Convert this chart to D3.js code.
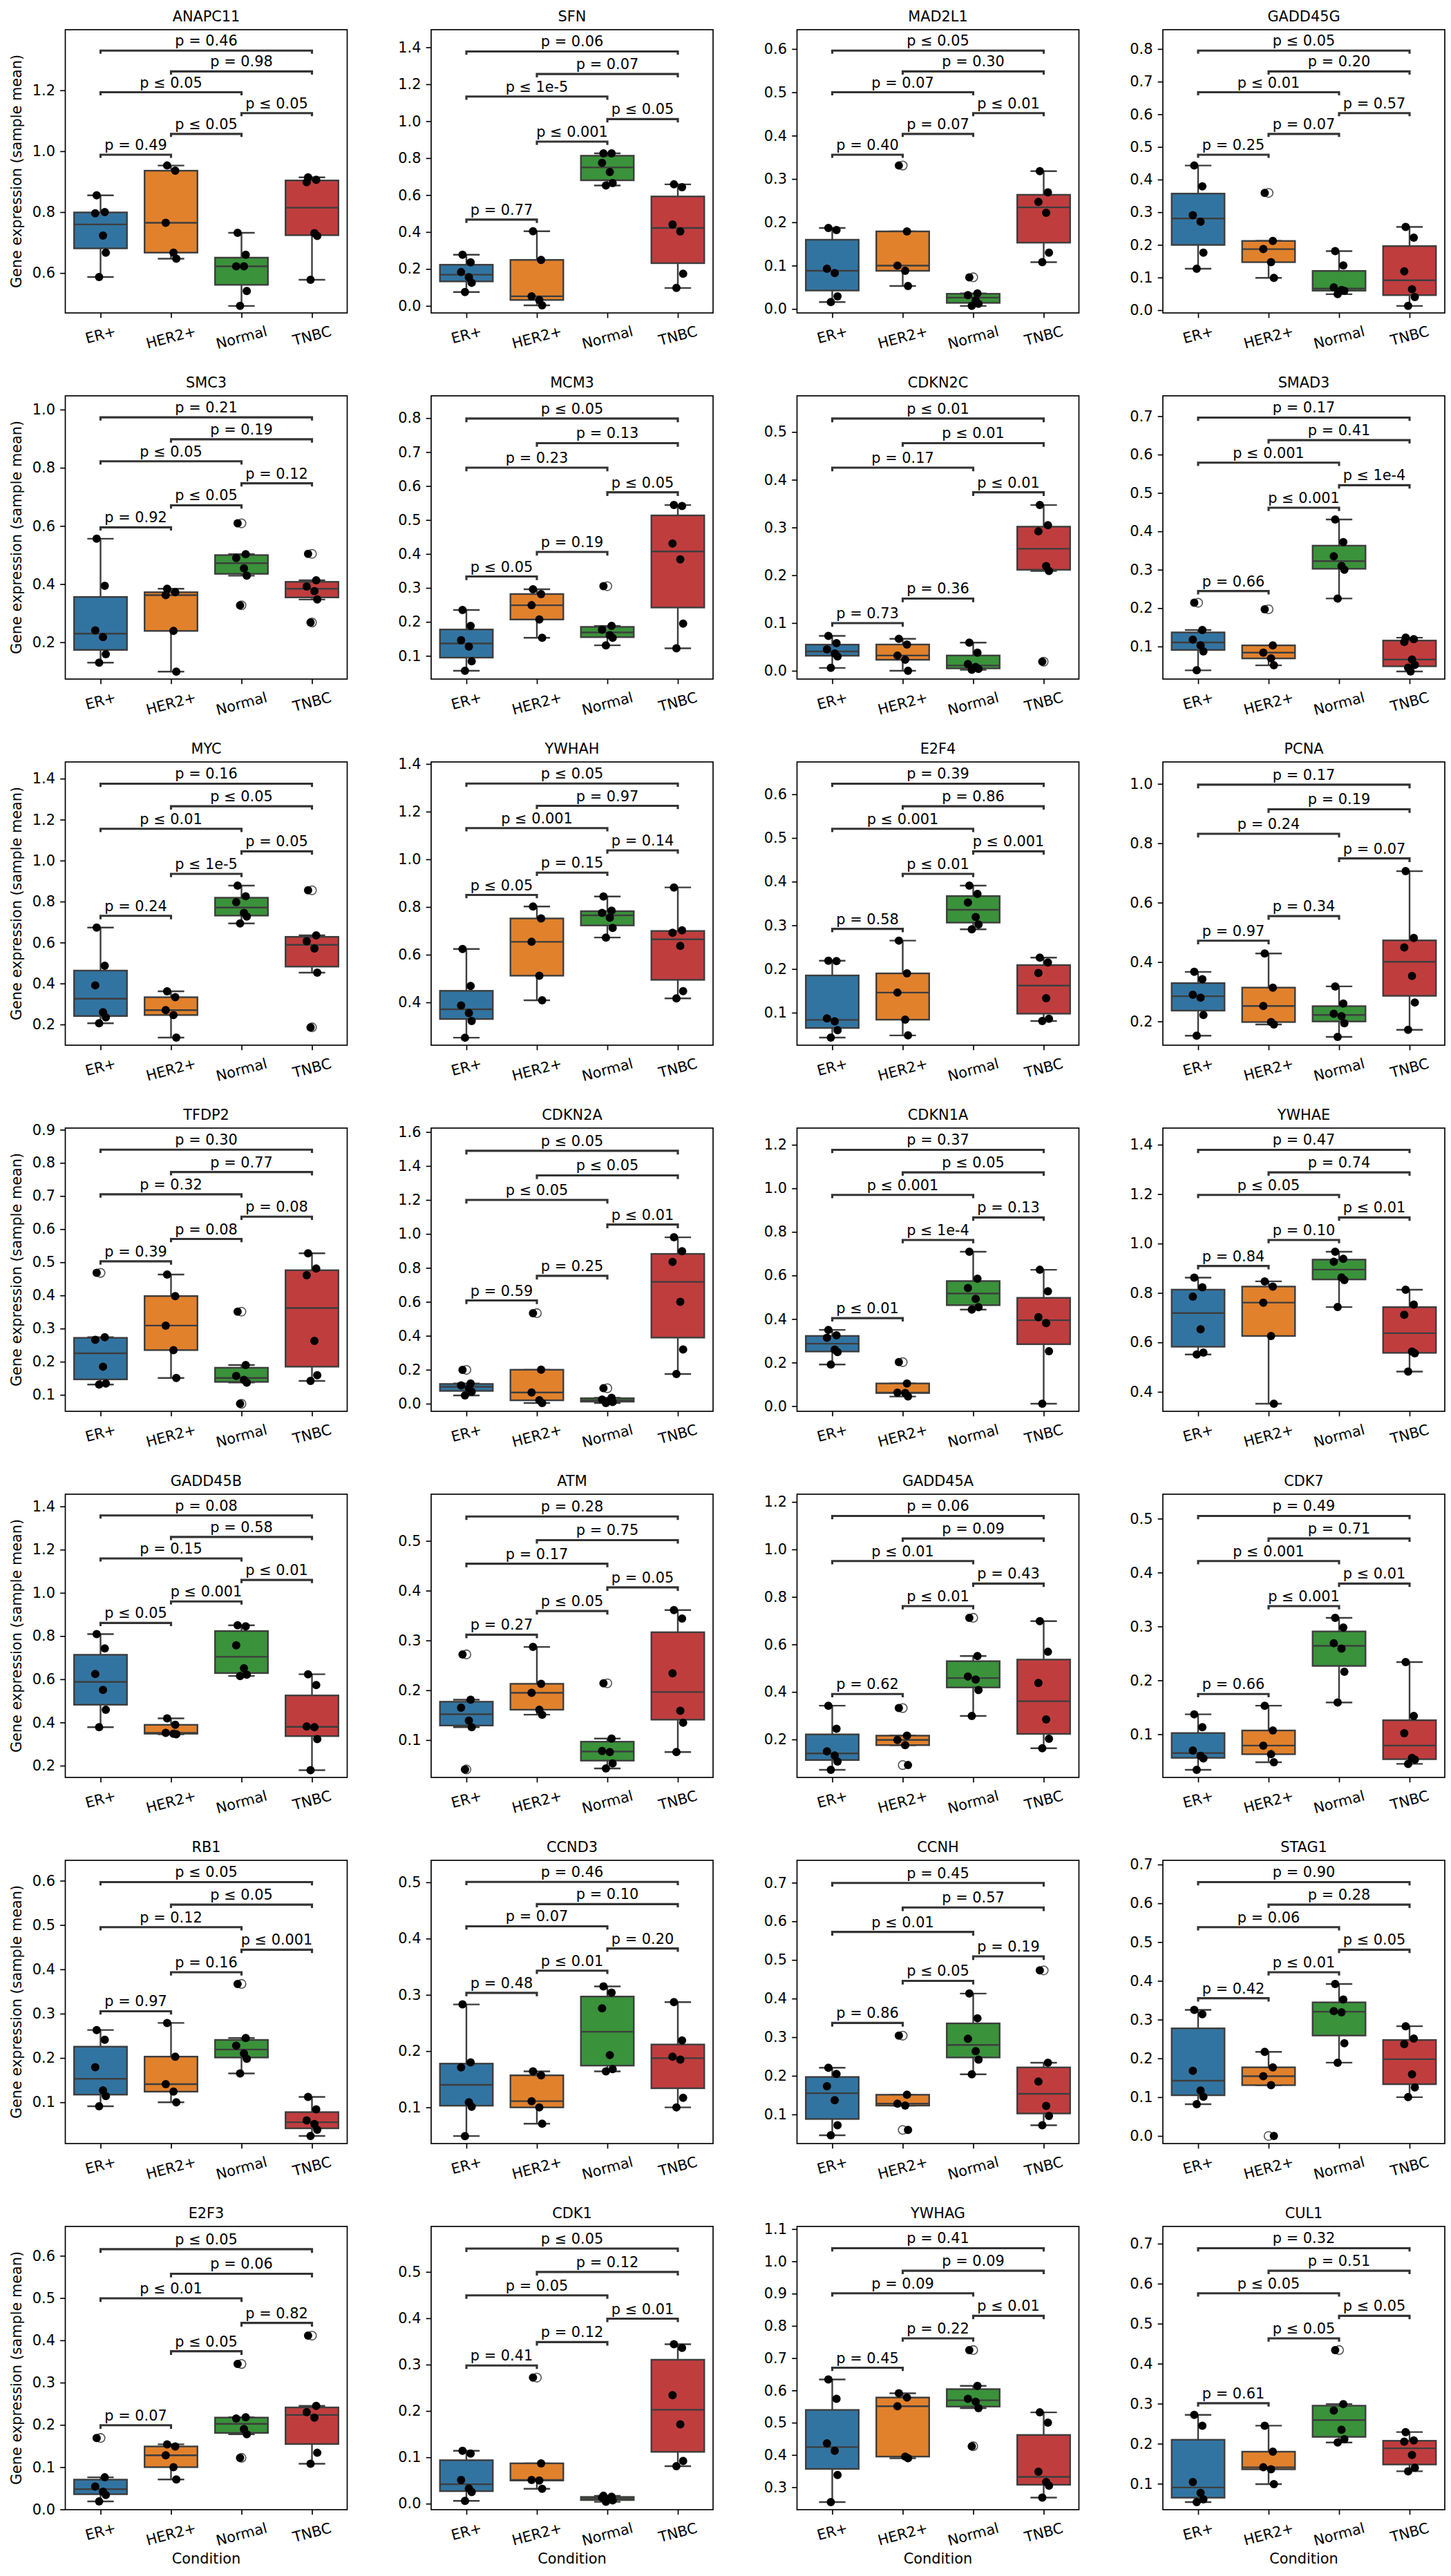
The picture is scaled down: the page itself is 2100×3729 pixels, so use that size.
<!DOCTYPE html>
<html>
<head>
<meta charset="utf-8">
<script src="https://cdn.jsdelivr.net/npm/d3@7"></script>
<style>
  body { margin: 0; background: #fff; }
  svg { display: block; }
  text { font-family: "DejaVu Sans", sans-serif; }
</style>
</head>
<body>
<svg id="chart" width="2100" height="3729"></svg>
<script>
var categories = ["ER+", "HER2+", "Normal", "TNBC"];

var genes = ["ANAPC11", "SFN", "MAD2L1", "GADD45G",
             "SMC3", "MCM3", "CDKN2C", "SMAD3",
             "MYC", "YWHAH", "E2F4", "PCNA",
             "TFDP2", "CDKN2A", "CDKN1A", "YWHAE",
             "GADD45B", "ATM", "GADD45A", "CDK7",
             "RB1", "CCND3", "CCNH", "STAG1",
             "E2F3", "CDK1", "YWHAG", "CUL1"];

// comparisons, in the order of the p-value lists below
var pairs = [[0, 1], [1, 2], [2, 3], [0, 2], [1, 3], [0, 3]];

var pTexts = [
  ["= 0.49", "≤ 0.05", "≤ 0.05", "≤ 0.05", "= 0.98", "= 0.46"],
  ["= 0.77", "≤ 0.001", "≤ 0.05", "≤ 1e-5", "= 0.07", "= 0.06"],
  ["= 0.40", "= 0.07", "≤ 0.01", "= 0.07", "= 0.30", "≤ 0.05"],
  ["= 0.25", "= 0.07", "= 0.57", "≤ 0.01", "= 0.20", "≤ 0.05"],
  ["= 0.92", "≤ 0.05", "= 0.12", "≤ 0.05", "= 0.19", "= 0.21"],
  ["≤ 0.05", "= 0.19", "≤ 0.05", "= 0.23", "= 0.13", "≤ 0.05"],
  ["= 0.73", "= 0.36", "≤ 0.01", "= 0.17", "≤ 0.01", "≤ 0.01"],
  ["= 0.66", "≤ 0.001", "≤ 1e-4", "≤ 0.001", "= 0.41", "= 0.17"],
  ["= 0.24", "≤ 1e-5", "= 0.05", "≤ 0.01", "≤ 0.05", "= 0.16"],
  ["≤ 0.05", "= 0.15", "= 0.14", "≤ 0.001", "= 0.97", "≤ 0.05"],
  ["= 0.58", "≤ 0.01", "≤ 0.001", "≤ 0.001", "= 0.86", "= 0.39"],
  ["= 0.97", "= 0.34", "= 0.07", "= 0.24", "= 0.19", "= 0.17"],
  ["= 0.39", "= 0.08", "= 0.08", "= 0.32", "= 0.77", "= 0.30"],
  ["= 0.59", "= 0.25", "≤ 0.01", "≤ 0.05", "≤ 0.05", "≤ 0.05"],
  ["≤ 0.01", "≤ 1e-4", "= 0.13", "≤ 0.001", "≤ 0.05", "= 0.37"],
  ["= 0.84", "= 0.10", "≤ 0.01", "≤ 0.05", "= 0.74", "= 0.47"],
  ["≤ 0.05", "≤ 0.001", "≤ 0.01", "= 0.15", "= 0.58", "= 0.08"],
  ["= 0.27", "≤ 0.05", "= 0.05", "= 0.17", "= 0.75", "= 0.28"],
  ["= 0.62", "≤ 0.01", "= 0.43", "≤ 0.01", "= 0.09", "= 0.06"],
  ["= 0.66", "≤ 0.001", "≤ 0.01", "≤ 0.001", "= 0.71", "= 0.49"],
  ["= 0.97", "= 0.16", "≤ 0.001", "= 0.12", "≤ 0.05", "≤ 0.05"],
  ["= 0.48", "≤ 0.01", "= 0.20", "= 0.07", "= 0.10", "= 0.46"],
  ["= 0.86", "≤ 0.05", "= 0.19", "≤ 0.01", "= 0.57", "= 0.45"],
  ["= 0.42", "≤ 0.01", "≤ 0.05", "= 0.06", "= 0.28", "= 0.90"],
  ["= 0.07", "≤ 0.05", "= 0.82", "≤ 0.01", "= 0.06", "≤ 0.05"],
  ["= 0.41", "= 0.12", "≤ 0.01", "= 0.05", "= 0.12", "≤ 0.05"],
  ["= 0.45", "= 0.22", "≤ 0.01", "= 0.09", "= 0.09", "= 0.41"],
  ["= 0.61", "≤ 0.05", "≤ 0.05", "≤ 0.05", "= 0.51", "= 0.32"]
];

// sample means per gene, one list per condition
var erValues = [
  [0.855, 0.800, 0.796, 0.723, 0.667, 0.587],
  [0.277, 0.236, 0.183, 0.155, 0.125, 0.075],
  [0.187, 0.182, 0.093, 0.083, 0.029, 0.016],
  [0.443, 0.379, 0.291, 0.271, 0.176, 0.127],
  [0.556, 0.394, 0.241, 0.218, 0.159, 0.130],
  [0.235, 0.188, 0.146, 0.127, 0.084, 0.056],
  [0.073, 0.058, 0.045, 0.036, 0.030, 0.006],
  [0.214, 0.143, 0.118, 0.103, 0.087, 0.038],
  [0.673, 0.487, 0.391, 0.260, 0.235, 0.206],
  [0.624, 0.469, 0.387, 0.355, 0.322, 0.252],
  [0.219, 0.218, 0.087, 0.080, 0.060, 0.043],
  [0.367, 0.342, 0.290, 0.280, 0.222, 0.152],
  [0.468, 0.274, 0.266, 0.185, 0.134, 0.131],
  [0.199, 0.119, 0.108, 0.091, 0.070, 0.049],
  [0.350, 0.325, 0.314, 0.259, 0.248, 0.191],
  [0.862, 0.823, 0.785, 0.653, 0.559, 0.551],
  [0.809, 0.743, 0.624, 0.551, 0.459, 0.378],
  [0.272, 0.181, 0.165, 0.139, 0.126, 0.041],
  [0.342, 0.245, 0.150, 0.132, 0.107, 0.072],
  [0.137, 0.113, 0.070, 0.060, 0.055, 0.034],
  [0.263, 0.241, 0.179, 0.127, 0.114, 0.091],
  [0.283, 0.180, 0.171, 0.109, 0.101, 0.049],
  [0.221, 0.205, 0.173, 0.137, 0.072, 0.046],
  [0.325, 0.314, 0.168, 0.117, 0.101, 0.082],
  [0.169, 0.076, 0.054, 0.042, 0.034, 0.019],
  [0.114, 0.108, 0.051, 0.033, 0.025, 0.006],
  [0.634, 0.574, 0.436, 0.413, 0.338, 0.254],
  [0.272, 0.245, 0.104, 0.077, 0.061, 0.054]
];

var her2Values = [
  [0.953, 0.936, 0.765, 0.667, 0.647],
  [0.404, 0.249, 0.052, 0.032, 0.003],
  [0.331, 0.179, 0.100, 0.088, 0.053],
  [0.359, 0.212, 0.187, 0.147, 0.099],
  [0.384, 0.372, 0.362, 0.239, 0.099],
  [0.296, 0.282, 0.249, 0.207, 0.153],
  [0.067, 0.055, 0.032, 0.023, 0.000],
  [0.197, 0.103, 0.084, 0.069, 0.051],
  [0.362, 0.333, 0.270, 0.246, 0.136],
  [0.802, 0.752, 0.654, 0.512, 0.409],
  [0.265, 0.190, 0.146, 0.084, 0.048],
  [0.429, 0.314, 0.252, 0.198, 0.190],
  [0.463, 0.398, 0.309, 0.235, 0.151],
  [0.533, 0.200, 0.066, 0.020, 0.004],
  [0.202, 0.104, 0.062, 0.060, 0.044],
  [0.847, 0.826, 0.761, 0.626, 0.352],
  [0.419, 0.389, 0.352, 0.348, 0.345],
  [0.287, 0.213, 0.195, 0.161, 0.151],
  [0.332, 0.216, 0.198, 0.176, 0.092],
  [0.153, 0.107, 0.079, 0.063, 0.048],
  [0.279, 0.203, 0.141, 0.124, 0.100],
  [0.164, 0.157, 0.111, 0.100, 0.071],
  [0.304, 0.151, 0.128, 0.123, 0.060],
  [0.217, 0.177, 0.154, 0.131, 0.000],
  [0.154, 0.149, 0.128, 0.100, 0.071],
  [0.272, 0.087, 0.051, 0.050, 0.032],
  [0.591, 0.578, 0.551, 0.395, 0.390],
  [0.245, 0.180, 0.141, 0.136, 0.099]
];

var normalValues = [
  [0.732, 0.660, 0.622, 0.622, 0.541, 0.492],
  [0.826, 0.826, 0.774, 0.725, 0.665, 0.652],
  [0.073, 0.036, 0.032, 0.020, 0.012, 0.007],
  [0.181, 0.137, 0.070, 0.062, 0.059, 0.049],
  [0.609, 0.503, 0.490, 0.454, 0.429, 0.327],
  [0.305, 0.188, 0.177, 0.161, 0.153, 0.131],
  [0.059, 0.038, 0.014, 0.008, 0.004, 0.002],
  [0.431, 0.372, 0.335, 0.310, 0.300, 0.225],
  [0.878, 0.826, 0.797, 0.745, 0.727, 0.693],
  [0.844, 0.785, 0.775, 0.755, 0.712, 0.672],
  [0.391, 0.372, 0.352, 0.319, 0.302, 0.291],
  [0.318, 0.260, 0.226, 0.218, 0.194, 0.148],
  [0.351, 0.190, 0.157, 0.145, 0.137, 0.073],
  [0.091, 0.035, 0.024, 0.018, 0.010, 0.004],
  [0.709, 0.585, 0.542, 0.492, 0.454, 0.443],
  [0.967, 0.938, 0.926, 0.863, 0.852, 0.743],
  [0.850, 0.845, 0.757, 0.651, 0.621, 0.615],
  [0.214, 0.103, 0.078, 0.076, 0.053, 0.043],
  [0.712, 0.551, 0.465, 0.452, 0.408, 0.299],
  [0.316, 0.298, 0.269, 0.259, 0.216, 0.159],
  [0.367, 0.245, 0.228, 0.210, 0.198, 0.165],
  [0.315, 0.304, 0.276, 0.193, 0.168, 0.164],
  [0.413, 0.349, 0.296, 0.264, 0.242, 0.204],
  [0.392, 0.352, 0.322, 0.319, 0.239, 0.189],
  [0.344, 0.218, 0.215, 0.190, 0.178, 0.122],
  [0.017, 0.015, 0.013, 0.010, 0.007, 0.004],
  [0.725, 0.614, 0.574, 0.565, 0.545, 0.427],
  [0.434, 0.299, 0.283, 0.235, 0.211, 0.203]
];

var tnbcValues = [
  [0.914, 0.906, 0.898, 0.731, 0.722, 0.578],
  [0.658, 0.643, 0.441, 0.403, 0.174, 0.097],
  [0.318, 0.269, 0.247, 0.222, 0.130, 0.108],
  [0.255, 0.222, 0.119, 0.064, 0.040, 0.013],
  [0.504, 0.413, 0.392, 0.376, 0.347, 0.268],
  [0.544, 0.541, 0.431, 0.384, 0.195, 0.122],
  [0.347, 0.305, 0.292, 0.219, 0.209, 0.019],
  [0.123, 0.119, 0.112, 0.066, 0.052, 0.045, 0.035],
  [0.855, 0.635, 0.606, 0.571, 0.453, 0.186],
  [0.882, 0.702, 0.692, 0.637, 0.447, 0.417],
  [0.226, 0.215, 0.191, 0.133, 0.086, 0.081],
  [0.706, 0.481, 0.449, 0.353, 0.264, 0.172],
  [0.527, 0.481, 0.461, 0.263, 0.159, 0.142],
  [0.980, 0.898, 0.835, 0.600, 0.319, 0.175],
  [0.626, 0.527, 0.408, 0.381, 0.252, 0.011],
  [0.813, 0.753, 0.712, 0.563, 0.556, 0.482],
  [0.623, 0.573, 0.381, 0.378, 0.323, 0.179],
  [0.361, 0.344, 0.234, 0.159, 0.135, 0.076],
  [0.698, 0.569, 0.438, 0.284, 0.203, 0.163],
  [0.234, 0.134, 0.102, 0.056, 0.053, 0.045],
  [0.112, 0.084, 0.059, 0.051, 0.038, 0.024],
  [0.287, 0.219, 0.190, 0.185, 0.117, 0.100],
  [0.473, 0.234, 0.185, 0.122, 0.096, 0.072],
  [0.283, 0.251, 0.237, 0.159, 0.125, 0.100],
  [0.411, 0.245, 0.230, 0.217, 0.134, 0.108],
  [0.344, 0.336, 0.234, 0.171, 0.092, 0.081],
  [0.532, 0.500, 0.348, 0.316, 0.305, 0.268],
  [0.229, 0.208, 0.205, 0.172, 0.140, 0.131]
];

var colors = ["#3274a1", "#e1812c", "#3a923a", "#c03d3e"];

// fixed strip offsets (fraction of category step), no randomness
var jitter = [-0.055, 0.06, -0.075, 0.035, 0.075, -0.02, 0.015];

var pt = 150 / 72;            // figure was 150 dpi
var fontPx = 10 * pt;
var axW = 408, axH = 410;
var left0 = 94.5, colStep = 529.5, top0 = 43, rowStep = 530;
var textBox = 24.5;           // height of a p-value label box, px
var lineGray = "#3d3d3d";

var svg = d3.select("#chart");

// matplotlib-like MaxNLocator (nbins 9)
function niceTicks(lo, hi) {
  var raw = (hi - lo) / 9;
  var scale = Math.pow(10, Math.floor(Math.log10(raw)));
  var m = [1, 2, 2.5, 5, 10].find(function(s) { return s * scale >= raw - 1e-12; });
  var step = m * scale;
  var ticks = [];
  for (var k = Math.ceil(lo / step - 1e-9); k <= Math.floor(hi / step + 1e-9); k++) ticks.push(k * step);
  var dec = Math.max(0, -Math.floor(Math.log10(step) + 1e-9)) + (m === 2.5 ? 1 : 0);
  return {ticks: ticks, format: d3.format("." + dec + "f")};
}

function boxStats(values) {
  var s = values.slice().sort(d3.ascending);
  var q1 = d3.quantileSorted(s, 0.25), med = d3.quantileSorted(s, 0.5), q3 = d3.quantileSorted(s, 0.75);
  var iqr = q3 - q1;
  var inside = s.filter(function(v) { return v >= q1 - 1.5 * iqr && v <= q3 + 1.5 * iqr; });
  return {
    q1: q1, med: med, q3: q3,
    lo: d3.min(inside), hi: d3.max(inside),
    fliers: s.filter(function(v) { return v < q1 - 1.5 * iqr || v > q3 + 1.5 * iqr; })
  };
}

genes.forEach(function(gene, gi) {
  var col = gi % 4, row = Math.floor(gi / 4);
  var g = svg.append("g")
    .attr("transform", "translate(" + (left0 + col * colStep) + "," + (top0 + row * rowStep) + ")");

  var groups = [erValues[gi], her2Values[gi], normalValues[gi], tnbcValues[gi]];
  var all = d3.merge(groups);
  var dmin = d3.min(all), dmax = d3.max(all);
  var lo = dmin - 0.05 * (dmax - dmin), hi0 = dmax + 0.05 * (dmax - dmin);
  var r0 = hi0 - lo;
  var u = r0 / axH;

  // stack the brackets like statannotations does (shortest span first)
  var stack = groups.map(function(d) { return d3.max(d); });
  var order = d3.range(pairs.length).sort(function(a, b) {
    return (pairs[a][1] - pairs[a][0]) - (pairs[b][1] - pairs[b][0]);
  });
  var brackets = [];
  order.forEach(function(k) {
    var a = pairs[k][0], b = pairs[k][1];
    var base = d3.max(stack.slice(a, b + 1));
    var tip = base + 0.05 * r0;
    var line = tip + 0.02 * r0;
    var top = line + (pt + textBox) * u;
    for (var j = a; j <= b; j++) stack[j] = top;
    brackets.push({a: a, b: b, tip: tip, line: line, label: "p " + pTexts[gi][k]});
  });
  var hi = Math.max(hi0, lo + 1.04 * (d3.max(stack) - lo));

  var x = d3.scalePoint().domain(d3.range(4)).range([0, axW]).padding(0.5);
  var y = d3.scaleLinear().domain([lo, hi]).range([axH, 0]);
  var step = x.step();
  var boxW = 0.75 * step, capW = 0.375 * step;

  // boxes
  groups.forEach(function(vals, ci) {
    var st = boxStats(vals), cx = x(ci);
    var bg = g.append("g").attr("stroke", lineGray).attr("stroke-width", 2.4);
    bg.append("line").attr("x1", cx).attr("x2", cx).attr("y1", y(st.q3)).attr("y2", y(st.hi));
    bg.append("line").attr("x1", cx).attr("x2", cx).attr("y1", y(st.q1)).attr("y2", y(st.lo));
    bg.append("line").attr("x1", cx - capW / 2).attr("x2", cx + capW / 2).attr("y1", y(st.hi)).attr("y2", y(st.hi));
    bg.append("line").attr("x1", cx - capW / 2).attr("x2", cx + capW / 2).attr("y1", y(st.lo)).attr("y2", y(st.lo));
    bg.append("rect").attr("x", cx - boxW / 2).attr("y", y(st.q3))
      .attr("width", boxW).attr("height", y(st.q1) - y(st.q3)).attr("fill", colors[ci]);
    bg.append("line").attr("x1", cx - boxW / 2).attr("x2", cx + boxW / 2).attr("y1", y(st.med)).attr("y2", y(st.med));
    bg.selectAll("circle.flier").data(st.fliers).enter().append("circle")
      .attr("class", "flier").attr("cx", cx).attr("cy", function(v) { return y(v); })
      .attr("r", 6.3).attr("fill", "none").attr("stroke", "#555").attr("stroke-width", 1.6);
  });

  // strip points
  groups.forEach(function(vals, ci) {
    g.selectAll(null).data(vals).enter().append("circle")
      .attr("cx", function(v, i) { return x(ci) + jitter[i % jitter.length] * step; })
      .attr("cy", function(v) { return y(v); })
      .attr("r", 6).attr("fill", "#000");
  });

  // significance brackets
  brackets.forEach(function(b) {
    g.append("path")
      .attr("d", "M" + x(b.a) + "," + y(b.tip) + "V" + y(b.line) + "H" + x(b.b) + "V" + y(b.tip))
      .attr("fill", "none").attr("stroke", "#333").attr("stroke-width", 1.5 * pt);
    g.append("text")
      .attr("x", (x(b.a) + x(b.b)) / 2)
      .attr("y", y(b.line) - pt - 0.236 * fontPx)
      .attr("text-anchor", "middle").attr("font-size", fontPx).attr("fill", "#000")
      .text(b.label);
  });

  // y axis
  var yt = niceTicks(lo, hi);
  var ya = g.append("g").call(d3.axisLeft(y).tickValues(yt.ticks).tickFormat(yt.format)
    .tickSize(3.5 * pt).tickPadding(3.5 * pt));
  ya.select(".domain").remove();
  ya.selectAll("line").attr("stroke", "#000").attr("stroke-width", 0.8 * pt);
  ya.selectAll("text").attr("font-size", fontPx).attr("fill", "#000").attr("font-family", "DejaVu Sans");

  // x axis with rotated labels
  var xa = g.append("g").attr("transform", "translate(0," + axH + ")")
    .call(d3.axisBottom(x).tickSize(3.5 * pt).tickFormat(""));
  xa.select(".domain").remove();
  xa.selectAll("line").attr("stroke", "#000").attr("stroke-width", 0.8 * pt);
  var capH = 0.729 * fontPx, ang = 15 * Math.PI / 180;
  categories.forEach(function(c, ci) {
    var t = g.append("text").attr("font-size", fontPx).attr("fill", "#000")
      .attr("text-anchor", "middle").text(c);
    var w = t.node().getComputedTextLength();
    var bx = x(ci) + Math.sin(ang) * capH / 2;
    var by = axH + 18 + Math.sin(ang) * w / 2 + Math.cos(ang) * capH;
    t.attr("x", bx).attr("y", by).attr("transform", "rotate(-15," + bx + "," + by + ")");
  });

  // frame
  g.append("rect").attr("width", axW).attr("height", axH)
    .attr("fill", "none").attr("stroke", "#000").attr("stroke-width", 0.8 * pt);

  // title
  g.append("text").attr("x", axW / 2).attr("y", -6 * pt)
    .attr("text-anchor", "middle").attr("font-size", fontPx).attr("fill", "#000").text(gene);

  if (col === 0) {
    g.append("text")
      .attr("transform", "translate(-71," + (axH / 2) + ") rotate(-90)")
      .attr("dy", "0.35em").attr("text-anchor", "middle")
      .attr("font-size", fontPx).attr("fill", "#000")
      .text("Gene expression (sample mean)");
  }
  if (row === 6) {
    g.append("text").attr("x", axW / 2).attr("y", axH + 78)
      .attr("text-anchor", "middle").attr("font-size", fontPx).attr("fill", "#000")
      .text("Condition");
  }
});
</script>
</body>
</html>
